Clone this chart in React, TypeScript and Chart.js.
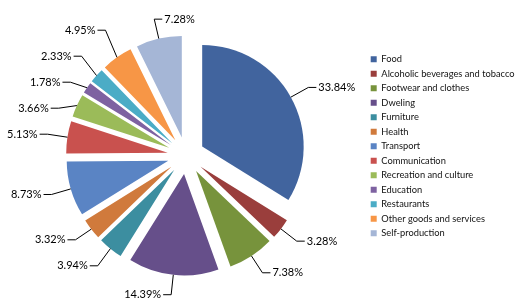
import React, { useEffect, useRef } from 'react';
import { Chart, registerables } from 'chart.js';

Chart.register(...registerables);

const categories = [
  'Food',
  'Alcoholic beverages and tobacco',
  'Footwear and clothes',
  'Dweling',
  'Furniture',
  'Health',
  'Transport',
  'Communication',
  'Recreation and culture',
  'Education',
  'Restaurants',
  'Other goods and services',
  'Self-production',
];
const shares = [33.84, 3.28, 7.38, 14.39, 3.94, 3.32, 8.73, 5.13, 3.66, 1.78, 2.33, 4.95, 7.28];
const sliceColors = [
  '#41649E', '#9A3E3C', '#77933C', '#664F8A', '#3C8EA0', '#D07A3C',
  '#5A84C4', '#C9514E', '#9BBB59', '#7E62A1', '#4BACC6', '#F79646', '#A5B6D6',
];

const EXPLODE = 18.5;
const LABEL_R = 140;
const GAP = 26;
const FONT = 'Lato, "Open Sans", sans-serif';

const explodePlugin = {
  id: 'explodeSlices',
  beforeDatasetDraw(chart: any, args: any) {
    const ctx = chart.ctx;
    args.meta.data.forEach((arc: any) => {
      const { startAngle, endAngle } = arc.getProps(['startAngle', 'endAngle'], true);
      const mid = (startAngle + endAngle) / 2;
      ctx.save();
      ctx.translate(Math.cos(mid) * EXPLODE, Math.sin(mid) * EXPLODE);
      arc.draw(ctx);
      ctx.restore();
    });
    return false;
  },
};

const labelPlugin = {
  id: 'pctLabels',
  afterDatasetsDraw(chart: any) {
    const meta = chart.getDatasetMeta(0);
    const ctx = chart.ctx;
    const items = meta.data.map((arc: any, i: number) => {
      const { x, y, startAngle, endAngle, outerRadius } = arc.getProps(
        ['x', 'y', 'startAngle', 'endAngle', 'outerRadius'],
        true
      );
      const mid = (startAngle + endAngle) / 2;
      const c = Math.cos(mid);
      const s = Math.sin(mid);
      const nearVertical = Math.abs(c) < 0.3;
      return {
        i,
        c,
        nearVertical,
        ax: x + c * (outerRadius + EXPLODE),
        ay: y + s * (outerRadius + EXPLODE),
        ex: x + c * LABEL_R,
        ey: y + s * LABEL_R,
        side: nearVertical ? (s < 0 ? 1 : -1) : c >= 0 ? 1 : -1,
      };
    });
    [1, -1].forEach((side) => {
      const group = items
        .filter((it: any) => it.side === side && !it.nearVertical)
        .sort((a: any, b: any) => a.ey - b.ey);
      for (let iter = 0; iter < 60; iter++) {
        for (let k = 1; k < group.length; k++) {
          const d = group[k].ey - group[k - 1].ey;
          if (d < GAP) {
            const sh = (GAP - d) / 2;
            group[k].ey += sh;
            group[k - 1].ey -= sh;
          }
        }
      }
    });
    ctx.save();
    ctx.strokeStyle = '#000';
    ctx.lineWidth = 1;
    ctx.fillStyle = '#000';
    ctx.font = '11px ' + FONT;
    ctx.textBaseline = 'middle';
    items.forEach((it: any) => {
      const hx = it.ex + it.side * 8;
      ctx.beginPath();
      ctx.moveTo(it.ax, it.ay);
      ctx.lineTo(it.ex, it.ey);
      ctx.lineTo(hx, it.ey);
      ctx.stroke();
      ctx.textAlign = it.side > 0 ? 'left' : 'right';
      ctx.fillText(shares[it.i].toFixed(2) + '%', hx + it.side * 2, it.ey);
    });
    ctx.restore();
  },
};

export default function App() {
  const canvasRef = useRef<HTMLCanvasElement | null>(null);

  useEffect(() => {
    document.body.style.margin = '0';
    const canvas = canvasRef.current;
    if (!canvas) return;
    const chart = new Chart(canvas, {
      type: 'pie',
      data: {
        labels: categories,
        datasets: [
          {
            data: shares,
            backgroundColor: sliceColors,
            borderWidth: 0,
            radius: 101.5,
          } as any,
        ],
      },
      options: {
        animation: false,
        responsive: true,
        maintainAspectRatio: false,
        layout: { padding: { left: 6.5, right: 0, top: 12, bottom: 0 } },
        plugins: {
          tooltip: { enabled: false },
          legend: {
            position: 'right',
            align: 'start',
            maxWidth: 149.5,
            title: {
              display: true,
              text: '',
              padding: { top: 25.45, bottom: 0 },
              font: { size: 10, family: FONT },
            },
            labels: {
              boxWidth: 6,
              boxHeight: 6,
              padding: 5.2,
              color: '#111',
              font: { size: 9.3, family: FONT },
            },
          },
        },
      },
      plugins: [explodePlugin, labelPlugin],
    });
    return () => chart.destroy();
  }, []);

  return (
    <div style={{ position: 'absolute', left: 0, top: 0, width: 515, height: 299 }}>
      <canvas ref={canvasRef} />
    </div>
  );
}
